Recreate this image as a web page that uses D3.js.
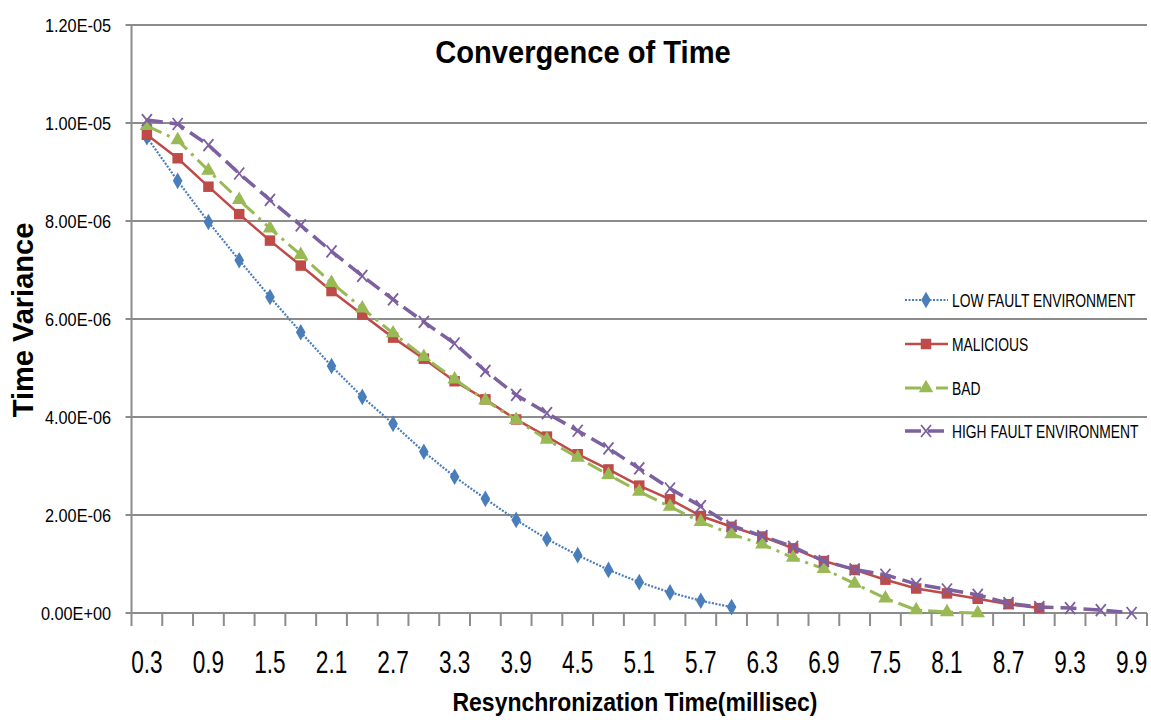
<!DOCTYPE html>
<html>
<head>
<meta charset="utf-8">
<title>Convergence of Time</title>
<style>
  body { margin: 0; background: #fff; }
  text { font-family: "Liberation Sans", Arial, sans-serif; fill: #000; }
</style>
</head>
<body>
<svg id="chart" width="1151" height="720"></svg>
<script src="https://cdn.jsdelivr.net/npm/d3@7/dist/d3.min.js"></script>
<script>
// x categories, resynchronization time (millisec)
var categories = ['0.3', '0.6', '0.9', '1.2', '1.5', '1.8', '2.1', '2.4', '2.7', '3.0', '3.3',
  '3.6', '3.9', '4.2', '4.5', '4.8', '5.1', '5.4', '5.7', '6.0', '6.3', '6.6', '6.9',
  '7.2', '7.5', '7.8', '8.1', '8.4', '8.7', '9.0', '9.3', '9.6', '9.9']

// time variance, in units of 1e-6
var lowFault = [9.71, 8.82, 7.98, 7.2, 6.45, 5.73, 5.04, 4.41, 3.86, 3.29, 2.78, 2.33, 1.9,
  1.51, 1.18, 0.88, 0.63, 0.42, 0.25, 0.12]
var malicious = [9.76, 9.28, 8.7, 8.14, 7.6, 7.09, 6.57, 6.09, 5.62, 5.19, 4.73, 4.36, 3.95,
  3.6, 3.24, 2.93, 2.6, 2.32, 1.98, 1.76, 1.56, 1.32, 1.06, 0.88, 0.68, 0.5, 0.4, 0.29, 0.18, 0.1]
var bad = [9.94, 9.65, 9.03, 8.43, 7.85, 7.31, 6.74, 6.22, 5.71, 5.23, 4.77, 4.34, 3.94,
  3.54, 3.17, 2.82, 2.48, 2.17, 1.86, 1.61, 1.4, 1.13, 0.9, 0.6, 0.3, 0.06, 0.02, 0.0]
var highFault = [10.06, 9.98, 9.55, 8.97, 8.43, 7.91, 7.38, 6.88, 6.4, 5.94, 5.5, 4.94, 4.45,
  4.08, 3.72, 3.36, 2.95, 2.54, 2.18, 1.78, 1.57, 1.35, 1.06, 0.89, 0.78, 0.59, 0.48, 0.37,
  0.2, 0.12, 0.1, 0.06, 0.0]

var seriesNames = ['LOW FAULT ENVIRONMENT', 'MALICIOUS', 'BAD', 'HIGH FAULT ENVIRONMENT']

var yTicks = [0, 2, 4, 6, 8, 10, 12]
var yTickLabels = ['0.00E+00', '2.00E-06', '4.00E-06', '6.00E-06', '8.00E-06', '1.00E-05', '1.20E-05']
var xTickLabels = ['0.3', '0.9', '1.5', '2.1', '2.7', '3.3', '3.9', '4.5', '5.1', '5.7',
  '6.3', '6.9', '7.5', '8.1', '8.7', '9.3', '9.9']

var margin = {left: 131.5, right: 1147, top: 25, bottom: 613}
var grey = '#8c8c8c'
var sx = 0.76   // text in the picture is squeezed sideways

var svg = d3.select('#chart')

var xScale = d3.scaleBand()
  .domain(categories)
  .range([margin.left, margin.right])
  .padding(0)
var yScale = d3.scaleLinear()
  .domain([0, 12])
  .range([margin.bottom, margin.top])

function cx(d, i) { return xScale(categories[i]) + xScale.bandwidth() / 2 }

function label(text, x, y, size, opts) {
  opts = opts || {}
  var t = svg.append('text')
    .attr('transform', 'translate(' + x + ',' + y + ')' +
      (opts.rotate ? ' rotate(' + opts.rotate + ')' : '') +
      ' scale(' + (opts.sx || sx) + ',1)')
    .attr('text-anchor', opts.anchor || 'start')
    .style('font-size', size + 'px')
    .style('font-weight', opts.bold ? 'bold' : 'normal')
    .text(text)
  return t
}

// gridlines
svg.append('g')
  .selectAll('line')
  .data(yTicks)
  .enter()
  .append('line')
  .attr('x1', margin.left - 6)
  .attr('x2', margin.right)
  .attr('y1', d => yScale(d))
  .attr('y2', d => yScale(d))
  .attr('stroke', grey)
  .attr('stroke-width', 2)

// y axis line
svg.append('line')
  .attr('x1', margin.left).attr('x2', margin.left)
  .attr('y1', margin.top).attr('y2', margin.bottom)
  .attr('stroke', grey).attr('stroke-width', 2)

// x tick marks at category boundaries
var bounds = categories.map(c => xScale(c)).concat([margin.right])
svg.append('g')
  .selectAll('line')
  .data(bounds)
  .enter()
  .append('line')
  .attr('x1', d => d).attr('x2', d => d)
  .attr('y1', margin.bottom).attr('y2', margin.bottom + 13)
  .attr('stroke', grey)
  .attr('stroke-width', 2)

// y tick labels
yTicks.forEach(function(v, i) {
  label(yTickLabels[i], 111, yScale(v) + 6.5, 18.5, {anchor: 'end', sx: 0.88})
})

// x tick labels, every other category
xTickLabels.forEach(function(c) {
  label(c, xScale(c) + xScale.bandwidth() / 2, 673, 31, {anchor: 'middle', sx: 0.73})
})

// series
var series = [
  {name: seriesNames[0], values: lowFault, color: '#4a7ebb', width: 2.2, dash: '2,1.5', marker: 'diamond'},
  {name: seriesNames[1], values: malicious, color: '#be4b48', width: 2.5, dash: null, marker: 'square'},
  {name: seriesNames[2], values: bad, color: '#98b954', width: 3, dash: '16,6,3,6', marker: 'triangle'},
  {name: seriesNames[3], values: highFault, color: '#7d60a0', width: 3.5, dash: '16,7', marker: 'x'}
]

function drawMarker(g, type, color) {
  if (type === 'diamond') {
    g.append('path').attr('d', d3.symbol().type(d3.symbolDiamond).size(80)())
      .attr('fill', color)
  } else if (type === 'square') {
    g.append('path').attr('d', d3.symbol().type(d3.symbolSquare).size(110)())
      .attr('fill', color)
  } else if (type === 'triangle') {
    g.append('path').attr('d', d3.symbol().type(d3.symbolTriangle).size(90)())
      .attr('fill', color)
  } else {
    g.append('path').attr('d', 'M-5,-6L5,6M-5,6L5,-6')
      .attr('stroke', color).attr('stroke-width', 1.8).attr('fill', 'none')
  }
}

var line = d3.line()
  .x(cx)
  .y(d => yScale(d))

series.forEach(function(s) {
  var g = svg.append('g')
  g.append('path')
    .datum(s.values)
    .attr('d', line)
    .attr('fill', 'none')
    .attr('stroke', s.color)
    .attr('stroke-width', s.width)
    .attr('stroke-dasharray', s.dash)
  g.selectAll('g.m')
    .data(s.values)
    .enter()
    .append('g')
    .attr('class', 'm')
    .attr('transform', (d, i) => 'translate(' + cx(d, i) + ',' + yScale(d) + ')')
    .each(function() { drawMarker(d3.select(this), s.marker, s.color) })
})

// legend
var legendY = [300, 344, 388, 431]
series.forEach(function(s, i) {
  var y = legendY[i]
  svg.append('line')
    .attr('x1', 905).attr('x2', 948)
    .attr('y1', y).attr('y2', y)
    .attr('stroke', s.color)
    .attr('stroke-width', s.width)
    .attr('stroke-dasharray', s.dash)
  var m = svg.append('g').attr('transform', 'translate(926,' + y + ')')
  drawMarker(m, s.marker, s.color)
  label(s.name, 952, y + 7, 18, {sx: 0.77})
})

// titles
label('Convergence of Time', 583, 63, 32, {anchor: 'middle', bold: true, sx: 0.91})
label('Resynchronization Time(millisec)', 635, 711, 25, {anchor: 'middle', bold: true, sx: 0.92})
label('Time Variance', 33, 320, 29, {anchor: 'middle', bold: true, rotate: -90, sx: 1})
</script>
</body>
</html>
